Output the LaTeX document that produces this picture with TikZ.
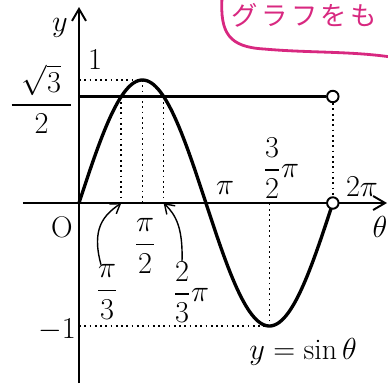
\documentclass[tikz,border=0pt]{standalone}
\usepackage{amsmath}
\usepackage{fontspec}
\newfontfamily\jpfont{Noto Sans CJK JP}
\usetikzlibrary{arrows.meta, positioning, calc}
\definecolor{penpink}{RGB}{216,40,128}

\begin{document}
\begin{tikzpicture}[
    x=0.02cm, y=0.02cm,
    axis/.style={line width=1.1pt, -{Straight Barb[length=2.4mm, width=2.8mm]}},
    wave/.style={line width=1.9pt},
    guide/.style={dotted, line width=1pt},
    level/.style={line width=1.3pt},
    hole/.style={circle, draw, line width=1.1pt, fill=white, inner sep=0pt, minimum size=2.3mm},
    lbl/.style={inner sep=1pt, font=\fontsize{17}{20}\selectfont},
    pointer/.style={-{Straight Barb[length=1.8mm, width=2.4mm]}, line width=0.8pt},
    memo/.style={draw=penpink, line width=1.6pt, line cap=round}
]
\useasboundingbox (-79,-180) rectangle (309,203);
\clip (-79,-180) rectangle (309,203);

% Coordinates
\coordinate (O) at (0,0);
\coordinate (xs) at (-56,0);
\coordinate (xe) at (308,0);
\coordinate (ys) at (0,-180);
\coordinate (ye) at (0,196);
\coordinate (one) at (0,123);
\coordinate (mone) at (0,-123);
\coordinate (r3) at (0,106.5);
\coordinate (a3) at (42.3,0);
\coordinate (a2) at (63.5,0);
\coordinate (a23) at (84.6,0);
\coordinate (a32) at (190.4,0);
\coordinate (c3) at (42.3,106.5);
\coordinate (c2) at (63.5,123);
\coordinate (c23) at (84.6,106.5);
\coordinate (c32) at (190.4,-123);

% Axes
\draw[axis] (xs) -- (xe);
\draw[axis] (ys) -- (ye);

% Dotted guides
\draw[guide] (one) -- (c2);
\draw[guide] (c3) -- (a3);
\draw[guide] (c2) -- (a2);
\draw[guide] (c23) -- (a23);
\draw[guide] (mone) -- (c32) -- (a32);

% Graph
\draw[wave] plot[domain=0:6.2832, samples=120] ({\x*40.4}, {123*sin(\x r)});

% Holes
\node[hole] (h1) at (253.8,106.5) {};
\node[hole] (h2) at (253.8,0) {};
\draw[level] (r3) -- (h1);
\draw[guide] (h1) -- (h2);

% Labels
\node[lbl] (ylab) at (-19,175) {$y$};
\node[lbl] (onelab) at (16,143) {$1$};
\node[lbl] (rlab) at (-37.5,104) {$\dfrac{\makebox[1.2cm]{$\sqrt{3}$}}{2}$};
\node[lbl] (olab) at (-17,-24) {O};
\node[lbl] (mlab) at (-22,-127) {$-1$};
\node[lbl] (l3) at (28,-89) {$\dfrac{\pi}{3}$};
\node[lbl] (l2) at (66,-43) {$\dfrac{\pi}{2}$};
\node[lbl] (l23) at (112,-89) {$\dfrac{2}{3}\pi$};
\node[lbl] (lpi) at (146,15) {$\pi$};
\node[lbl] (l32) at (202,35) {$\dfrac{3}{2}\pi$};
\node[lbl] (l2pi) at (283,16) {$2\pi$};
\node[lbl] (th) at (301,-24) {$\theta$};
\node[lbl] (fn) at (224,-149) {$y=\sin\theta$};

% Pointers
\draw[pointer] (l3.north) ++(-6,-2) .. controls (12,-25) and (25,-12) .. (a3);
\draw[pointer] (l23.north) ++(-9,-2) .. controls (104,-25) and (97,-12) .. (a23);

% Pen memo
\draw[memo] (143,205) .. controls (141,170) and (150,156) .. (185,154) .. controls (230,150) and (270,152) .. (312,146);
\node[anchor=west, inner sep=0pt, text=penpink, font=\jpfont\fontsize{15}{17}\selectfont] (memo) at (152,188) {グ\hspace{2pt}ラ\hspace{2pt}フ\hspace{2pt}を\hspace{2pt}も};
\end{tikzpicture}
\end{document}
